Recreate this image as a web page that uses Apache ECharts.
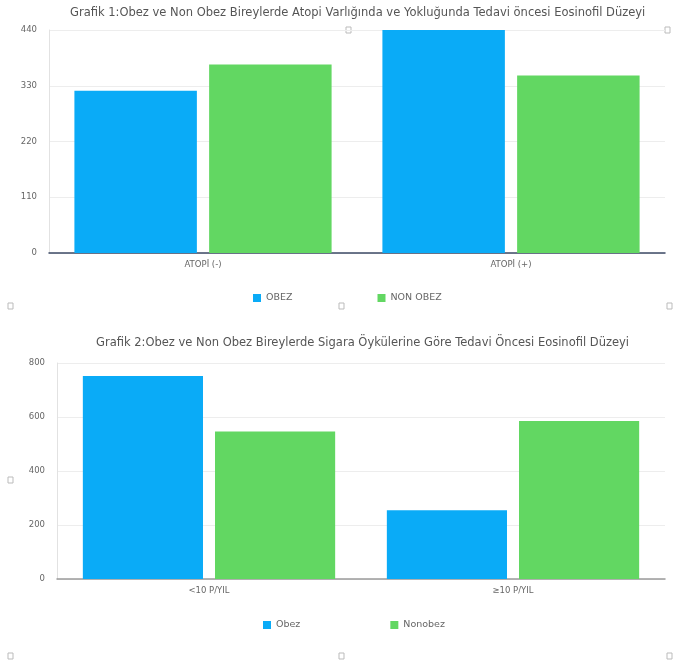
<!DOCTYPE html>
<html>
<head>
<meta charset="utf-8">
<script src="https://cdn.jsdelivr.net/npm/echarts@6/dist/echarts.min.js"></script>
<style>
html,body{margin:0;padding:0;background:#fff;}
#chart{width:673px;height:666px;}
</style>
</head>
<body>
<div id="chart"></div>
<script>
// Grafik 1: atopi durumuna göre eozinofil düzeyi
const title1 = 'Grafik 1:Obez ve Non Obez Bireylerde Atopi Varlığında ve Yokluğunda Tedavi öncesi Eosinofil Düzeyi';
const categories1 = ['ATOPİ (-)', 'ATOPİ (+)'];
const obez1 = [320, 440];
const nonObez1 = [372, 350];
const names1 = ['OBEZ', 'NON OBEZ'];

// Grafik 2: sigara öyküsüne göre eozinofil düzeyi
const title2 = 'Grafik 2:Obez ve Non Obez Bireylerde Sigara Öykülerine Göre Tedavi Öncesi Eosinofil Düzeyi';
const categories2 = ['<10 P/YIL', '≥10 P/YIL'];
const obez2 = [752, 255];
const nonObez2 = [546, 585];
const names2 = ['Obez', 'Nonobez'];

const BLUE = '#0aabf7';
const GREEN = '#62d762';
const FONT = 'DejaVu Sans, Verdana, sans-serif';

const chart = echarts.init(document.getElementById('chart'), null, {renderer: 'canvas'});

function yAxis(gridIndex, max, interval) {
  return {
    type: 'value', gridIndex, min: 0, max, interval,
    axisLine: {show: true, lineStyle: {color: '#e2e2e2'}},
    axisTick: {show: false},
    splitLine: {lineStyle: {color: '#ededed'}},
    axisLabel: {color: '#666', fontSize: 8.5, fontFamily: FONT, margin: 12}
  };
}
function xAxis(gridIndex, data, lineColor) {
  return {
    type: 'category', gridIndex, data,
    axisLine: {lineStyle: {color: lineColor, width: 1.5}},
    axisTick: {show: false},
    axisLabel: {color: '#666', fontSize: 8.5, fontFamily: FONT, margin: 7}
  };
}
function bar(name, data, idx, color, catGap) {
  return {
    name, type: 'bar', data, xAxisIndex: idx, yAxisIndex: idx,
    itemStyle: {color}, barGap: '10%', barCategoryGap: catGap,
    animation: false
  };
}

// small gray handles at the frame corners
const handles = [[8, 303], [339, 303], [667, 303], [346, 27], [665, 27],
                 [8, 477], [8, 653], [339, 653], [667, 653]];

const titleStyle = {fontSize: 11.5, fontWeight: 'normal', color: '#555', fontFamily: FONT};
const legendText = {fontSize: 9.5, color: '#666', fontFamily: FONT};

chart.setOption({
  backgroundColor: '#fff',
  animation: false,
  title: [
    {text: title1, left: 65, top: 2, textStyle: titleStyle},
    {text: title2, left: 91, top: 332, textStyle: titleStyle}
  ],
  legend: [
    {data: names1, top: 288, left: 248, itemWidth: 8, itemHeight: 8, itemGap: 85,
     icon: 'rect', textStyle: legendText},
    {data: names2, top: 615, left: 258, itemWidth: 8, itemHeight: 8, itemGap: 90,
     icon: 'rect', textStyle: legendText}
  ],
  grid: [
    {left: 49, right: 8, top: 30, height: 223},
    {left: 57, right: 8, top: 363, height: 216}
  ],
  xAxis: [xAxis(0, categories1, '#3d4a66'), xAxis(1, categories2, '#9a9a9a')],
  yAxis: [yAxis(0, 440, 110), yAxis(1, 800, 200)],
  series: [
    bar(names1[0], obez1, 0, BLUE, '16.5%'),
    bar(names1[1], nonObez1, 0, GREEN, '16.5%'),
    bar(names2[0], obez2, 1, BLUE, '17%'),
    bar(names2[1], nonObez2, 1, GREEN, '17%')
  ],
  graphic: handles.map(([x, y]) => ({
    type: 'rect', shape: {x, y, width: 5, height: 6},
    style: {fill: '#fff', stroke: '#bbb', lineWidth: 1}
  }))
});
</script>
</body>
</html>
